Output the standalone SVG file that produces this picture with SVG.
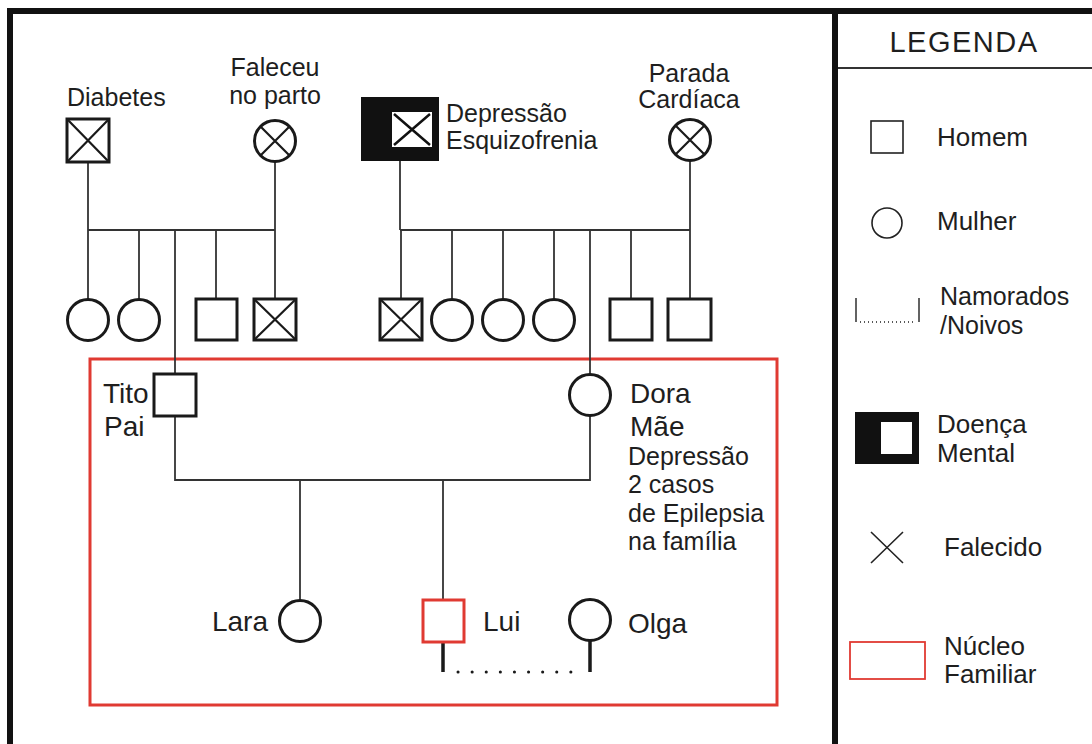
<svg xmlns="http://www.w3.org/2000/svg" width="1092" height="744" viewBox="0 0 1092 744">
<defs>
<style>
text{font-family:"Liberation Sans",Arial,sans-serif;fill:#1e1e1e}
.t25{font-size:25px}
.t28{font-size:28px}
.lg{font-size:26px}
.sym{fill:#fff;stroke:#1a1a1a;stroke-width:3}
.x{stroke:#1a1a1a;stroke-width:2.2}
.ln{stroke:#333;stroke-width:1.8;fill:none}
.frame{stroke:#111;stroke-width:6;fill:none}
</style>
</defs>
<rect width="1092" height="744" fill="#fff"/>
<g id="frame">
<path class="frame" d="M10 744V11H1092M835 11V744"/>
<line x1="838" y1="68" x2="1092" y2="68" stroke="#333" stroke-width="1.8"/>
</g>
<g id="nucleo">
<rect x="90" y="359" width="687" height="346" fill="none" stroke="#e03a32" stroke-width="3"/>
</g>
<g id="connectors">
<path class="ln" d="M88 162V230M275 162V230M88 230H275M88 230V299M139 230V299M175 230V374M216 230V299M275 230V299"/>
<path class="ln" d="M400 161V230M690 161V230M400 230H690M401 230V299M452 230V299M503 230V299M554 230V299M590 230V374M631 230V299M690 230V299"/>
<path class="ln" d="M175 416V480H590V416M300 480V600M443 480V600"/>
<path d="M443 642V672M590 641V672" stroke="#1a1a1a" stroke-width="3.5" fill="none"/>
<line x1="458" y1="672" x2="582" y2="672" stroke="#1a1a1a" stroke-width="3" stroke-linecap="round" stroke-dasharray="0.1 14"/>
</g>
<g id="diabetes">
<rect class="sym" x="67" y="119" width="42" height="43"/>
<path class="x" d="M67 119L109 162M109 119L67 162"/>
<text class="t25" x="67" y="106">Diabetes</text>
</g>
<g id="faleceu">
<circle class="sym" cx="275" cy="141" r="20.5"/>
<path class="x" d="M260.5 126.5L289.5 155.5M289.5 126.5L260.5 155.5"/>
<text class="t25" x="275" y="76" text-anchor="middle">Faleceu</text>
<text class="t25" x="275" y="104" text-anchor="middle">no parto</text>
</g>
<g id="avo-depressao">
<rect x="361" y="97" width="78" height="64" fill="#111"/>
<rect x="392" y="112" width="40" height="35" fill="#fff"/>
<path d="M394 114L430 145M430 114L394 145" stroke="#111" stroke-width="2.5"/>
<text class="t25" x="446" y="122">Depressão</text>
<text class="t25" x="446" y="149">Esquizofrenia</text>
</g>
<g id="parada">
<circle class="sym" cx="690" cy="140" r="20.5"/>
<path class="x" d="M675.5 125.5L704.5 154.5M704.5 125.5L675.5 154.5"/>
<text class="t25" x="689" y="82" text-anchor="middle">Parada</text>
<text class="t25" x="689" y="108" text-anchor="middle">Cardíaca</text>
</g>
<g id="tios-paternos">
<circle class="sym" cx="88" cy="320" r="20.5"/>
<circle class="sym" cx="139" cy="320" r="20.5"/>
<rect class="sym" x="196" y="299" width="41" height="41"/>
<rect class="sym" x="254" y="299" width="42" height="41"/>
<path class="x" d="M254 299L296 340M296 299L254 340"/>
</g>
<g id="tios-maternos">
<rect class="sym" x="380" y="299" width="42" height="41"/>
<path class="x" d="M380 299L422 340M422 299L380 340"/>
<circle class="sym" cx="452" cy="320" r="20.5"/>
<circle class="sym" cx="503" cy="320" r="20.5"/>
<circle class="sym" cx="554" cy="320" r="20.5"/>
<rect class="sym" x="610" y="299" width="42" height="41"/>
<rect class="sym" x="668" y="299" width="43" height="41"/>
</g>
<g id="tito">
<rect class="sym" x="154" y="374" width="42" height="42"/>
<text class="t28" x="103" y="403">Tito</text>
<text class="t28" x="104" y="436">Pai</text>
</g>
<g id="dora">
<circle class="sym" cx="590" cy="395" r="20.5"/>
<text class="t28" x="630" y="403">Dora</text>
<text class="t28" x="630" y="436">Mãe</text>
<text class="t25" x="628" y="465">Depressão</text>
<text class="t25" x="628" y="493">2 casos</text>
<text class="t25" x="628" y="522">de Epilepsia</text>
<text class="t25" x="628" y="550">na família</text>
</g>
<g id="lara">
<circle class="sym" cx="300" cy="621" r="20.5"/>
<text class="t28" x="268" y="631" text-anchor="end">Lara</text>
</g>
<g id="lui">
<rect x="423" y="600" width="41" height="42" fill="#fff" stroke="#e03a32" stroke-width="3"/>
<text class="t28" x="483" y="631">Lui</text>
</g>
<g id="olga">
<circle class="sym" cx="590" cy="620" r="20.5"/>
<text class="t28" x="628" y="633">Olga</text>
</g>
<g id="legenda">
<text x="964" y="52" text-anchor="middle" style="font-size:29px;letter-spacing:1.5px">LEGENDA</text>
<rect x="871" y="121" width="32" height="32" fill="#fff" stroke="#222" stroke-width="1.6"/>
<text class="lg" x="937" y="146">Homem</text>
<circle cx="887" cy="223" r="15" fill="#fff" stroke="#222" stroke-width="1.6"/>
<text class="lg" x="937" y="230">Mulher</text>
<path d="M856 298V322M919 298V322" stroke="#222" stroke-width="1.4"/>
<line x1="860" y1="322" x2="916" y2="322" stroke="#222" stroke-width="1.4" stroke-dasharray="1 3"/>
<text x="940" y="305" style="font-size:25px">Namorados</text>
<text x="940" y="334" style="font-size:25px">/Noivos</text>
<rect x="855" y="412" width="64" height="52" fill="#111"/>
<rect x="881" y="422" width="31" height="32" fill="#fff"/>
<text class="lg" x="937" y="433">Doença</text>
<text class="lg" x="937" y="462">Mental</text>
<path d="M871 532L903 563M903 532L871 563" stroke="#222" stroke-width="1.6"/>
<text class="lg" x="944" y="556">Falecido</text>
<rect x="850" y="642" width="75" height="37" fill="none" stroke="#e03a32" stroke-width="1.8"/>
<text class="lg" x="944" y="655">Núcleo</text>
<text class="lg" x="944" y="683">Familiar</text>
</g>
</svg>
